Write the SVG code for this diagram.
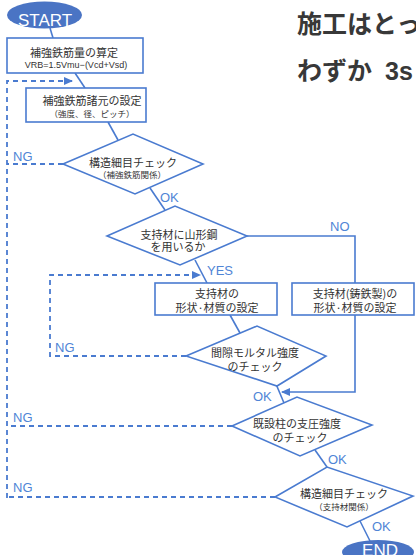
<svg xmlns="http://www.w3.org/2000/svg" width="416" height="555" viewBox="0 0 416 555">
<defs>
<style>
.bx{fill:#fff;stroke:#4a7bd0;stroke-width:1.6}
.ln{fill:none;stroke:#4a7bd0;stroke-width:1.6}
.ds{fill:none;stroke:#4a7bd0;stroke-width:1.8;stroke-dasharray:5 4}
.t{font-family:"Noto Sans CJK JP","Liberation Sans",sans-serif;font-size:11px;fill:#333;text-anchor:middle}
.s{font-family:"Noto Sans CJK JP","Liberation Sans",sans-serif;font-size:8.5px;fill:#333;text-anchor:middle}
.v{font-family:"Liberation Sans","Noto Sans CJK JP",sans-serif;font-size:9px;fill:#333;text-anchor:middle}
.lb{font-family:"Liberation Sans",sans-serif;font-size:13px;fill:#4f85d6}
.el{fill:#4a74c4}
.et{font-family:"Liberation Sans",sans-serif;font-size:17px;fill:#fff;text-anchor:middle}
.hd{font-family:"Noto Sans CJK JP","Liberation Sans",sans-serif;font-size:25px;font-weight:bold;fill:#383838}
</style>
<marker id="ah" markerWidth="9" markerHeight="8" refX="8" refY="4" orient="auto" markerUnits="userSpaceOnUse">
<path d="M0,0 L9,4 L0,8 Z" fill="#4a7bd0"/>
</marker>
</defs>
<rect width="416" height="555" fill="#fff"/>

<g id="header">
<text class="hd" x="297" y="33">施工はとっ</text>
<text class="hd" x="297" y="80">わずか<tspan x="385" font-family="Liberation Sans,sans-serif">3s</tspan></text>
</g>

<g id="connectors">
<path class="ln" d="M50,28 L53,38"/>
<path class="ln" d="M75,73 L85,88"/>
<path class="ln" d="M108,122 L118,140"/>
<path class="ln" d="M150,188 L165,210"/>
<path class="ln" d="M195,260 L207,283"/>
<path class="ln" d="M247,236 L355,236 L355,283"/>
<path class="ln" d="M355,315 L355,392 L282,392" marker-end="url(#ah)"/>
<path class="ln" d="M230,315 L240,333"/>
<path class="ln" d="M276,384 L284,403"/>
<path class="ln" d="M315,450 L327,467"/>
<path class="ln" d="M360,521 L370,541"/>
<path class="ds" d="M63,164 L7,164"/>
<path class="ds" d="M7,498 L7,81 L72,81" marker-end="url(#ah)"/>
<path class="ds" d="M186,356 L50,356 L50,275 L200,275" marker-end="url(#ah)"/>
<path class="ds" d="M232,426 L7,426"/>
<path class="ds" d="M275,497 L7,497"/>
<text class="lb" x="13" y="161">NG</text>
<text class="lb" x="55" y="352">NG</text>
<text class="lb" x="13" y="422">NG</text>
<text class="lb" x="13" y="492">NG</text>
<text class="lb" x="160" y="202">OK</text>
<text class="lb" x="207" y="275">YES</text>
<text class="lb" x="330" y="231">NO</text>
<text class="lb" x="253" y="401">OK</text>
<text class="lb" x="328" y="464">OK</text>
<text class="lb" x="372" y="531">OK</text>
</g>

<g id="start">
<ellipse class="el" cx="44.5" cy="15" rx="37.5" ry="13.5"/>
<text class="et" x="45" y="26">START</text>
</g>

<g id="box1">
<rect class="bx" x="7" y="38" width="136" height="35"/>
<text class="t" x="74" y="57">補強鉄筋量の算定</text>
<text class="v" x="76" y="68">VRB=1.5Vmu−(Vcd+Vsd)</text>
</g>

<g id="box2">
<rect class="bx" x="26" y="88" width="120" height="34"/>
<text class="t" x="92" y="105">補強鉄筋諸元の設定</text>
<text class="s" x="92" y="117">（強度、径、ピッチ）</text>
</g>

<g id="check1">
<polygon class="bx" points="63,164 133,134 203,164 135,194"/>
<text class="t" x="133" y="167">構造細目チェック</text>
<text class="s" x="132" y="178">（補強鉄筋関係）</text>
</g>

<g id="decision">
<polygon class="bx" points="107,236 175,206 247,236 180,265"/>
<text class="t" x="179" y="239">支持材に山形鋼</text>
<text class="t" x="178" y="251">を用いるか</text>
</g>

<g id="box3">
<rect class="bx" x="155" y="283" width="122" height="32"/>
<text class="t" x="217" y="298">支持材の</text>
<text class="t" x="217" y="312">形状·材質の設定</text>
</g>

<g id="box4">
<rect class="bx" x="292" y="283" width="122" height="32"/>
<text class="t" x="355" y="298">支持材(鋳鉄製)の</text>
<text class="t" x="355" y="312">形状·材質の設定</text>
</g>

<g id="check2">
<polygon class="bx" points="186,356 257,326 326,356 277,386"/>
<text class="t" x="255" y="357">間隙モルタル強度</text>
<text class="t" x="255" y="371">のチェック</text>
</g>

<g id="check3">
<polygon class="bx" points="232,426 297,397 372,425 300,456"/>
<text class="t" x="297" y="428">既設柱の支圧強度</text>
<text class="t" x="300" y="442">のチェック</text>
</g>

<g id="check4">
<polygon class="bx" points="275,497 327,467 413,496 347,527"/>
<text class="t" x="344" y="498">構造細目チェック</text>
<text class="s" x="344" y="510">（支持材関係）</text>
</g>

<g id="end">
<ellipse class="el" cx="378" cy="552" rx="36" ry="12"/>
<text class="et" x="380" y="556">END</text>
</g>
</svg>
